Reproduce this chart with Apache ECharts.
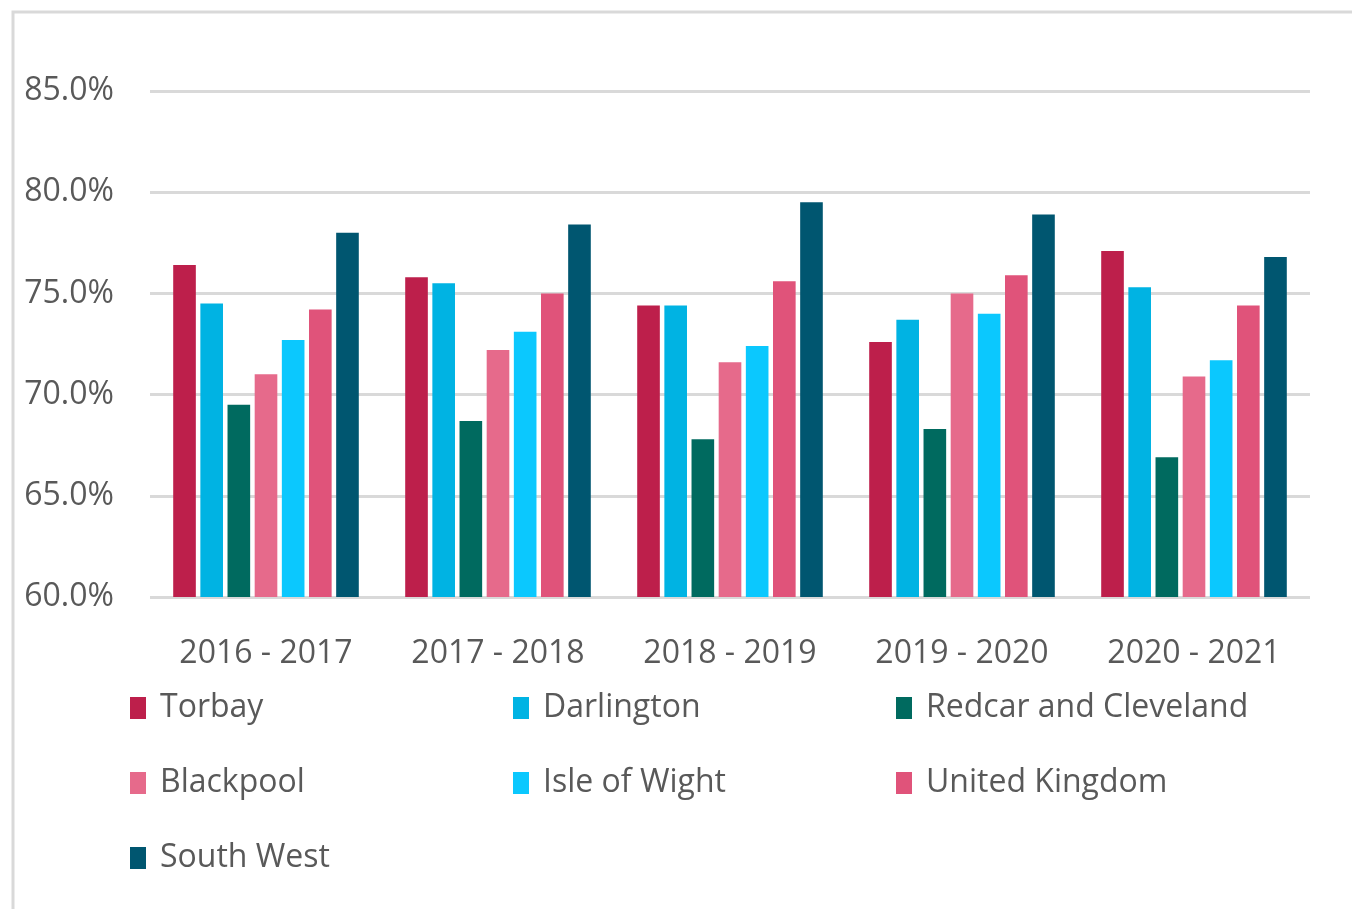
<!DOCTYPE html>
<html>
<head>
<meta charset="utf-8">
<script src="https://cdn.jsdelivr.net/npm/echarts@6/dist/echarts.min.js"></script>
<style>
  html, body { margin: 0; padding: 0; background: #fff; }
  #chart { width: 1352px; height: 909px; }
</style>
</head>
<body>
<div id="chart"></div>
<script>
const periods = ['2016 - 2017', '2017 - 2018', '2018 - 2019', '2019 - 2020', '2020 - 2021']

const torbay = [76.4, 75.8, 74.4, 72.6, 77.1]
const darlington = [74.5, 75.5, 74.4, 73.7, 75.3]
const redcar = [69.5, 68.7, 67.8, 68.3, 66.9]
const blackpool = [71.0, 72.2, 71.6, 75.0, 70.9]
const isleOfWight = [72.7, 73.1, 72.4, 74.0, 71.7]
const unitedKingdom = [74.2, 75.0, 75.6, 75.9, 74.4]
const southWest = [78.0, 78.4, 79.5, 78.9, 76.8]

const seriesNames = ['Torbay', 'Darlington', 'Redcar and Cleveland', 'Blackpool', 'Isle of Wight', 'United Kingdom', 'South West']
const seriesData = [torbay, darlington, redcar, blackpool, isleOfWight, unitedKingdom, southWest]
const seriesColors = ['#BD1F4B', '#00B3E3', '#006A5F', '#E66A8B', '#0BC8FE', '#E0537A', '#005670']

const textColor = '#595959'
const fontFamily = '"Open Sans", sans-serif'

const chart = echarts.init(document.getElementById('chart'))

// 범례 한 줄씩 (열 위치 맞추기)
const legendRows = [
  ['Torbay', 'Darlington', 'Redcar and Cleveland'],
  ['Blackpool', 'Isle of Wight', 'United Kingdom'],
  ['South West']
]
const legendTops = [683, 758, 833]

const legends = legendRows.map((row, i) => ({
  data: row,
  left: 125,
  top: legendTops[i],
  orient: 'horizontal',
  itemWidth: 16,
  itemHeight: 22,
  itemGap: 13,
  icon: 'rect',
  selectedMode: false,
  textStyle: {
    color: textColor,
    fontFamily,
    fontSize: 32,
    lineHeight: 40,
    width: 340,
    padding: [0, 0, 0, 9]
  }
}))

const option = {
  animation: false,
  backgroundColor: '#fff',
  graphic: [
    {
      type: 'polyline',
      shape: { points: [[13, 909], [13, 12], [1352, 12]] },
      style: { stroke: '#d9d9d9', lineWidth: 3, fill: null }
    }
  ],
  legend: legends,
  grid: {
    left: 150,
    right: 42,
    top: 91,
    bottom: 312,
    containLabel: false
  },
  xAxis: {
    type: 'category',
    data: periods,
    axisLine: { show: false },
    axisTick: { show: false },
    axisLabel: {
      color: textColor,
      fontFamily,
      fontSize: 32,
      lineHeight: 40,
      margin: 37
    }
  },
  yAxis: {
    type: 'value',
    min: 60,
    max: 85,
    interval: 5,
    axisLine: { show: false },
    axisTick: { show: false },
    axisLabel: {
      color: textColor,
      fontFamily,
      fontSize: 32,
      margin: 36,
      padding: [4, 0, 0, 0],
      formatter: v => v.toFixed(1) + '%'
    },
    splitLine: { lineStyle: { color: '#d9d9d9', width: 3 } }
  },
  series: seriesNames.map((name, i) => ({
    name,
    type: 'bar',
    data: seriesData[i],
    barGap: '20%',
    barCategoryGap: '20%',
    itemStyle: { color: seriesColors[i] }
  }))
}

chart.setOption(option)
</script>
</body>
</html>
